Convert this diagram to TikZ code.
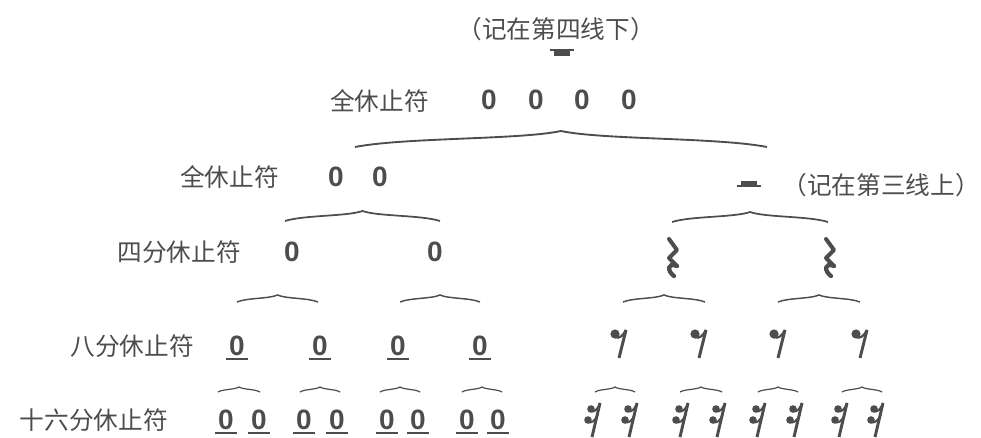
\documentclass[tikz,border=0pt]{standalone}
\usepackage{fontspec}
\newfontfamily\cjk{Noto Sans CJK SC}
\newfontfamily\numfont{Liberation Sans}
\usetikzlibrary{calc}
\definecolor{ink}{HTML}{4D4D4D}

\tikzset{
  lbl/.style={font={\cjk\fontsize{18.5}{20}\selectfont}, text=ink, inner sep=0pt},
  zero/.style={font={\numfont\bfseries\fontsize{21}{22}\selectfont}, text=ink, inner sep=1pt},
  ulline/.style={draw=ink, line width=1.1pt},
  grp/.style={draw=ink, line width=1.3pt, to path={
    .. controls ($(\tikztostart)!.12!(\tikztotarget)+(0,-#1*0.6)$)
    and ($(\tikztostart)!.4!(\tikztotarget)+(0,-#1*0.45)$)
    .. ($(\tikztostart)!.5!(\tikztotarget)+(0,-#1)$)
    .. controls ($(\tikztostart)!.6!(\tikztotarget)+(0,-#1*0.45)$)
    and ($(\tikztostart)!.88!(\tikztotarget)+(0,-#1*0.6)$)
    .. (\tikztotarget)}},
  % rest signs, drawn in pixel units
  wrest/.pic={
    \draw[ink,line width=1.4pt] (-12,0) -- (12,0);
    \fill[ink] (-8,0) rectangle (8,6);
  },
  hrest/.pic={
    \fill[ink] (-8,-5) rectangle (8,0);
    \draw[ink,line width=1.4pt] (-12,0) -- (12,0);
  },
  qrest/.pic={
    \draw[ink,line width=3pt,line join=round,line cap=round] (-4,-18) -- (4,-7) -- (-4,1) -- (4,9);
    \draw[ink,line width=3.2pt,line cap=round] (4,9) .. controls (-6,5) and (-6,14) .. (1,19);
  },
  erest/.pic={
    \fill[ink] (-5,-9) circle (4.6);
    \draw[ink,line width=1.7pt] (-5,-6) .. controls (-1,-4) and (3,-7) .. (6,-13);
    \draw[ink,line width=2.2pt] (6,-13) -- (-1,15);
  },
  srest/.pic={
    \fill[ink] (-3,-11) circle (3.8);
    \fill[ink] (-6,0) circle (3.8);
    \draw[ink,line width=1.5pt] (-3,-9) .. controls (0,-7) and (4,-11) .. (6,-17);
    \draw[ink,line width=1.5pt] (-6,2) .. controls (-3,4) and (2,0) .. (3.5,-5);
    \draw[ink,line width=2.2pt] (6,-17) -- (-2,17);
  },
}

\begin{document}
\begin{tikzpicture}[x=0.75pt,y=-0.75pt]
\useasboundingbox (0,0) rectangle (981,438);

% whole rest
\node[lbl] (note4) at (556,29) {（记在第四线下）};
\pic (wr) at (562,50) {wrest};
\node[lbl,anchor=east] (lbl1) at (429,101) {全休止符};
\foreach \x [count=\i] in {489,536,582,629}
  \node[zero] (w\i) at (\x,100) {0};

% second row
\node[lbl,anchor=east] (lbl2) at (279,177) {全休止符};
\node[zero] (h1) at (336,177) {0};
\node[zero] (h2) at (380,177) {0};
\pic (hr) at (749,186) {hrest};
\node[lbl] (note3) at (881,185) {（记在第三线上）};

% quarter rests
\node[lbl,anchor=east] (lbl3) at (241,252) {四分休止符};
\node[zero] (q1) at (292,252) {0};
\node[zero] (q2) at (435,252) {0};
\pic (qr1) at (673,257) {qrest};
\pic (qr2) at (830,257) {qrest};

% eighth rests
\node[lbl,anchor=east] (lbl4) at (194,346) {八分休止符};
\foreach \x [count=\i] in {237,320,398,480}
  \node[zero] (e\i) at (\x,346) {0};
\foreach \x [count=\i] in {620,700,779,861}
  \pic (er\i) at (\x,343) {erest};

% sixteenth rests
\node[lbl,anchor=east] (lbl5) at (168,420) {十六分休止符};
\foreach \x [count=\i] in {226,259,304,337,387,418,467,498}
  \node[zero] (s\i) at (\x,420) {0};
\foreach \x [count=\i] in {594,631,682,719,759,796,841,877}
  \pic (sr\i) at (\x,420) {srest};

\foreach \n in {e1,e2,e3,e4,s1,s2,s3,s4,s5,s6,s7,s8}
  \draw[ulline] ([xshift=-1.5pt,yshift=-1pt]\n.south west) -- ([xshift=1.5pt,yshift=-1pt]\n.south east);

% braces
\foreach \a/\b/\y/\h/\w [count=\i] in {355/767/147/16/1.4pt, 285/440/221/10/1.3pt, 672/828/222/10/1.3pt,
    237/318/302/7/1.1pt, 400/480/302/7/1.1pt, 623/705/302/7/1.1pt, 778/860/302/7/1.1pt,
    218/260/392/5/0.9pt, 300/340/392/5/0.9pt, 380/420/392/5/0.9pt, 462/502/392/5/0.9pt,
    595/635/392/5/0.9pt, 680/722/392/5/0.9pt, 758/798/392/5/0.9pt, 842/882/392/5/0.9pt}{
  \coordinate (gl\i) at (\a,\y);
  \coordinate (gr\i) at (\b,\y);
  \draw[grp=\h,line width=\w] (gl\i) to (gr\i);
}
\end{tikzpicture}
\end{document}
